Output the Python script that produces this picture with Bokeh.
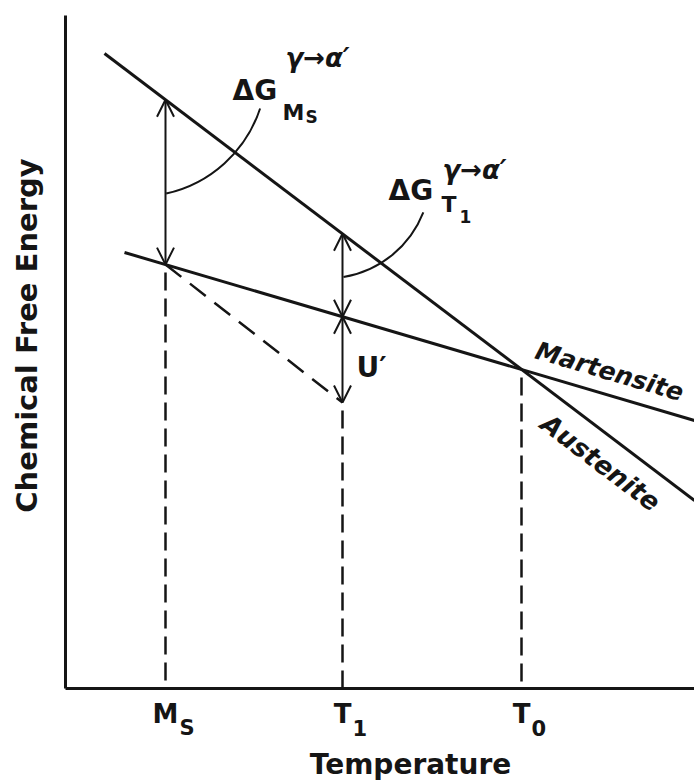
import numpy as np
from bokeh.plotting import figure
from bokeh.models import Range1d, Label, Arrow, OpenHead, FixedTicker
from bokeh.embed import file_html
from bokeh.resources import INLINE

# ---------------- data (schematic units) ----------------
temp_main = ["M", "T", "T"]          # tick label letters
temp_sub = ["S", "1", "0"]           # tick label subscripts
temp_values = [100, 277, 456]        # Ms, T1, T0
austenite_T = [39, 629]
austenite_G = [635, 188]
martensite_T = [59, 629]
martensite_G = [436, 268]
strained_G_T1 = 286                  # bottom of the U' arrow at T1
T_max, G_max = 629, 673              # axis extents

Ms, T1, T0 = temp_values


def g_aus(t):
    return float(np.interp(t, austenite_T, austenite_G))


def g_mar(t):
    return float(np.interp(t, martensite_T, martensite_G))


FONT = "DejaVu Sans"
INK = "#151515"

p = figure(width=694, height=784, x_range=Range1d(-65, 629), y_range=Range1d(-96, 688),
           output_backend="svg", toolbar_location=None,
           min_border_left=0, min_border_right=0, min_border_top=0, min_border_bottom=0)
p.outline_line_color = None
p.grid.visible = False
p.background_fill_color = "white"
p.border_fill_color = "white"
for ax in (p.xaxis, p.yaxis):
    ax.ticker = FixedTicker(ticks=[])
    ax.fixed_location = 0
    ax.major_tick_line_color = None
    ax.minor_tick_line_color = None
    ax.major_tick_out = 0
    ax.major_tick_in = 0
    ax.minor_tick_out = 0
    ax.major_label_standoff = 0
    ax.major_label_text_font_size = "0px"
    ax.axis_line_width = 3
    ax.axis_line_color = INK
p.xaxis.bounds = (0, T_max)
p.yaxis.bounds = (0, G_max)

# free energy lines
p.line(austenite_T, austenite_G, line_width=3, color=INK)
p.line(martensite_T, martensite_G, line_width=3, color=INK)

# vertical dashed drop lines
p.segment(x0=[Ms, T1, T0], y0=[g_mar(Ms), strained_G_T1, g_mar(T0)],
          x1=[Ms, T1, T0], y1=[0, 0, 0],
          line_dash="18 8", line_dash_offset=18, line_width=2.5, color=INK)
# slanted dashed line
p.line([Ms, T1], [g_mar(Ms), strained_G_T1], line_dash="20 11",
       line_width=2.5, color=INK)


# double-headed arrows
def arrow(y0, y1, x):
    p.add_layout(Arrow(x_start=x, y_start=y0, x_end=x, y_end=y1,
                       start=OpenHead(size=17, line_width=2, line_color=INK),
                       end=OpenHead(size=17, line_width=2, line_color=INK),
                       line_width=2, line_color=INK))


arrow(g_mar(Ms), g_aus(Ms), Ms)
arrow(g_mar(T1), g_aus(T1), T1)
arrow(g_mar(T1), strained_G_T1, T1)

# leader arcs
p.arc(x=[73, 261], y=[620, 514], radius=[128, 104],
      start_angle=list(np.radians([-77.5, -80.6])),
      end_angle=list(np.radians([-18.2, -21.4])),
      line_width=2, color=INK)


def txt(x, y, s, size, style="bold", align="left", angle=0.0):
    # (x, y) is the baseline anchor; shift to the cap-height middle
    d = 0.36 * size
    x = x - np.sin(angle) * d
    y = y + np.cos(angle) * d
    p.add_layout(Label(x=float(x), y=float(y), text=s, text_font=FONT,
                       text_font_size=f"{size}px", text_font_style=style,
                       text_align=align, text_baseline="middle",
                       angle=angle, text_color=INK))


# tick labels
sub_offsets = [14, 10, 10]
for t, m, s, off in zip(temp_values, temp_main, temp_sub, sub_offsets):
    txt(t, -35, m, 26, align="center")
    txt(t + off, -47, s, 21)

# axis titles
txt(345, -86, "Temperature", 28, align="center")
txt(-28, 353, "Chemical Free Energy", 29, align="center", angle=np.pi / 2)

# Delta G at Ms
txt(167, 588, "ΔG", 28)
txt(217, 568, "M", 22)
txt(240, 565, "S", 17)
txt(220, 621, "γ→α′", 26, style="bold italic")

# Delta G at T1
txt(323, 488, "ΔG", 28)
txt(376, 476, "T", 22)
txt(394, 466, "1", 17)
txt(377, 509, "γ→α′", 26, style="bold italic")

# U'
txt(291, 311, "U′", 28)

# phase labels along the lines
ang_m = float(np.arctan2(martensite_G[1] - martensite_G[0], martensite_T[1] - martensite_T[0]))
ang_a = float(np.arctan2(austenite_G[1] - austenite_G[0], austenite_T[1] - austenite_T[0]))
txt(468, 330, "Martensite", 25, style="bold italic", angle=ang_m)
txt(473, 261, "Austenite", 26, style="bold italic", angle=ang_a)

open("out.html", "w").write(file_html(p, INLINE))
